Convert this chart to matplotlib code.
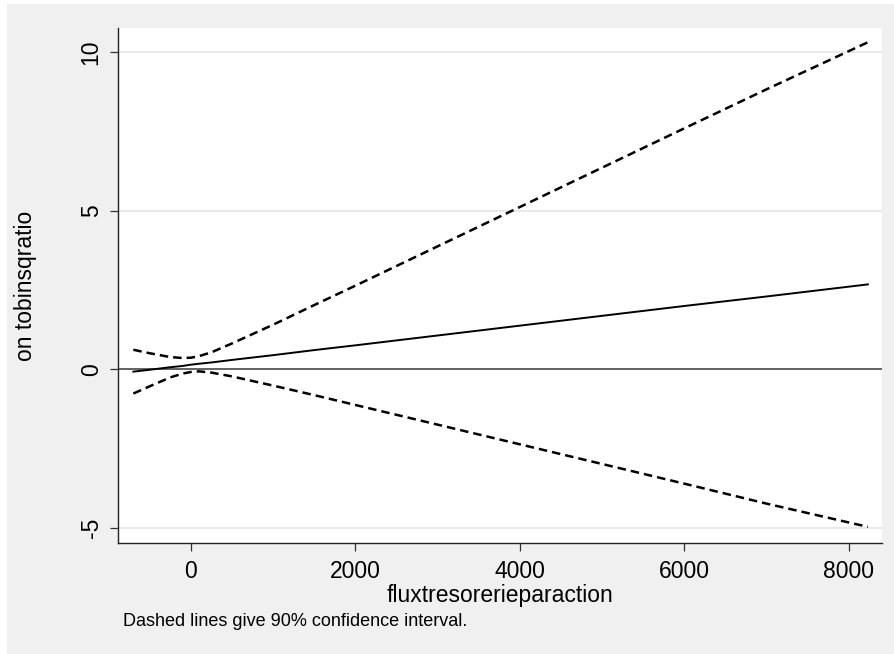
import numpy as np
import matplotlib
matplotlib.use("Agg")
import matplotlib.pyplot as plt
from matplotlib.patches import Rectangle

plt.rcParams['font.family'] = ['Liberation Sans', 'DejaVu Sans']

# marginal effect of fluxtresorerieparaction on tobinsqratio, with 90% CI
flux = [-700, -500, -250, -100, 0, 100, 250, 500, 1000, 1500, 2000,
        3000, 4000, 5000, 6000, 7000, 8230]
effect = [-0.07, -0.01, 0.07, 0.11, 0.15, 0.18, 0.22, 0.30, 0.45, 0.61, 0.76,
          1.07, 1.38, 1.69, 2.00, 2.30, 2.68]
upper = [0.62, 0.51, 0.39, 0.36, 0.37, 0.42, 0.54, 0.82, 1.41, 2.03, 2.64,
         3.88, 5.12, 6.36, 7.60, 8.83, 10.31]
lower = [-0.76, -0.53, -0.25, -0.13, -0.08, -0.06, -0.10, -0.22, -0.51, -0.81, -1.12,
         -1.74, -2.36, -2.98, -3.60, -4.23, -4.96]

xticks = [0, 2000, 4000, 6000, 8000]
yticks = [-5, 0, 5, 10]

fig = plt.figure(figsize=(8.95, 6.54), dpi=100, facecolor="white")
# graph region background (behind the axes)
fig.patches.append(Rectangle((7 / 895, 0), 1, 1 - 4 / 654, transform=fig.transFigure,
                             facecolor="#f0f0f0", edgecolor="none", zorder=-10))

ax = fig.add_axes([0.1318, 0.1697, 0.8536, 0.7875])
ax.set_zorder(1)
ax.set_facecolor("white")

for yv in [10, 5, -5]:
    ax.axhline(yv, color="#e9e9e9", lw=1.5, zorder=1)
ax.axhline(0, color="#484848", lw=1.2, zorder=2)

ax.plot(flux, effect, color="black", lw=1.4, zorder=3)
ax.plot(flux, upper, color="black", lw=1.8, dashes=(3.4, 2.0), zorder=3)
ax.plot(flux, lower, color="black", lw=1.8, dashes=(3.4, 2.0), zorder=3)

ax.set_xlim(-887, 8401)
ax.set_ylim(-5.47, 10.76)
ax.set_xticks(xticks)
ax.set_yticks(yticks)
ax.set_yticklabels([str(v) for v in yticks], rotation=90, va="center")

for side in ["top", "right"]:
    ax.spines[side].set_visible(False)
for side in ["left", "bottom"]:
    ax.spines[side].set_color("#222222")
    ax.spines[side].set_linewidth(1.0)

ax.tick_params(axis="both", direction="out", length=6, width=0.9, color="#333333",
               labelsize=16.5, labelcolor="black")
ax.tick_params(axis="y", pad=5)
ax.tick_params(axis="x", pad=6)

ax.set_xlabel("fluxtresorerieparaction", fontsize=16.5, labelpad=1)
ax.set_ylabel("on tobinsqratio", fontsize=16.5, labelpad=31)

fig.text(123 / 895, 1 - 621 / 654, "Dashed lines give 90% confidence interval.",
         fontsize=13, va="center", ha="left")

fig.savefig("out.png", dpi=100, facecolor=fig.get_facecolor())
